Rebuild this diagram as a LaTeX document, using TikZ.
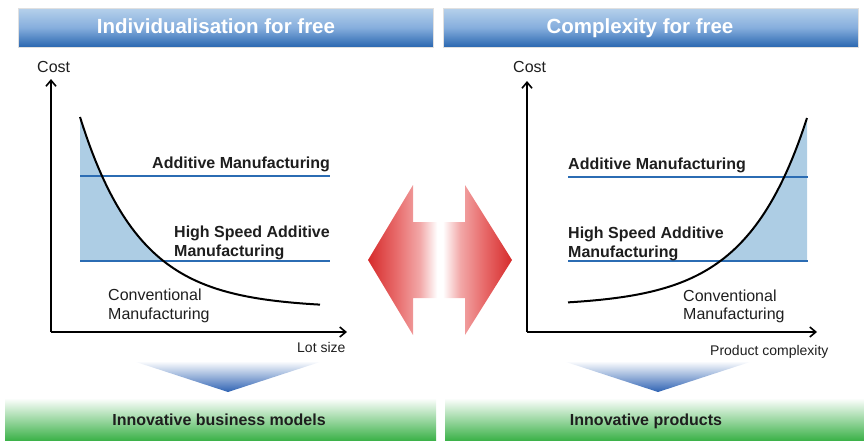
\documentclass[tikz,border=0pt]{standalone}
\usepackage{fontspec}
\setmainfont{Liberation Sans}
\usetikzlibrary{arrows.meta}
\definecolor{hdrTop}{HTML}{B6D1EB}
\definecolor{hdrMid}{HTML}{86AEDD}
\definecolor{hdrBot}{HTML}{2A67B0}
\definecolor{lineblue}{HTML}{2B6CB3}
\definecolor{areablue}{HTML}{ADCDE4}
\definecolor{txt}{HTML}{1E1E1E}
\definecolor{grn}{HTML}{3DB24A}
\definecolor{tri}{HTML}{2F63B3}
\definecolor{redtip}{HTML}{D62B2B}
\definecolor{redmid}{HTML}{E86C6C}
\definecolor{redlight}{HTML}{F2A8A8}
\pgfdeclarehorizontalshading{redarrow}{100bp}{color(0bp)=(redtip); color(25bp)=(redtip); color(35bp)=(redmid); color(43bp)=(redlight); color(49bp)=(white); color(51bp)=(white); color(57bp)=(redlight); color(65bp)=(redmid); color(75bp)=(redtip); color(100bp)=(redtip)}
\tikzset{
  hdrbar/.style={top color=hdrTop, bottom color=hdrBot, middle color=hdrMid, draw=black!12, line width=0.6pt},
  hdrtext/.style={anchor=base, inner sep=0, text=white, font=\bfseries\fontsize{20.5}{24}\selectfont},
  grnbar/.style={top color=white, bottom color=grn},
  bottext/.style={anchor=base, inner sep=0, text=txt, font=\bfseries\fontsize{16}{19}\selectfont},
  tristyle/.style={top color=white, bottom color=tri},
  lbl/.style={anchor=base west, inner sep=0, text=txt, font=\fontsize{16}{19}\selectfont},
  blbl/.style={anchor=base west, inner sep=0, text=txt, font=\bfseries\fontsize{16}{19}\selectfont},
  small/.style={anchor=base west, inner sep=0, text=txt, font=\fontsize{14}{17}\selectfont},
  axis/.style={line width=1.6pt, -{Straight Barb[length=6pt,width=10pt,line width=1.6pt]}},
  amline/.style={draw=lineblue, line width=1.8pt},
  costcurve/.style={draw=black, line width=2pt},
}
\begin{document}
\begin{tikzpicture}[x=1pt,y=-1pt]
\useasboundingbox (0,0) rectangle (864,440);
% header bars
\path[hdrbar] (18,8) rectangle (433,47);
\path[hdrbar] (443,8) rectangle (858,47);
\node[hdrtext] (h1) at (216,33) {Individualisation for free};
\node[hdrtext] (h2) at (640,33) {Complexity for free};
% bottom green bars
\path[grnbar] (5,398) rectangle (436,440);
\path[grnbar] (445,398) rectangle (864,440);
\node[bottext] (b1) at (219,425) {Innovative business models};
\node[bottext] (b2) at (646,425) {Innovative products};
% blue triangles
\path[tristyle] (133,361) -- (323,361) -- (228,392) -- cycle;
\path[tristyle] (563,361) -- (753,361) -- (658,392) -- cycle;
% red double arrow
\path[shading=redarrow] (368,260) -- (413,185) -- (413,222) -- (465,222) -- (465,185) -- (512,260) -- (465,335) -- (465,298) -- (413,298) -- (413,335) -- cycle;

% ---------- left chart ----------
\fill[areablue] plot[domain=80:163.5,samples=40] (\x,{308-191*exp(-0.0168*(\x-80))}) -- (80,261) -- cycle;
\coordinate (lam1) at (80,176); \coordinate (lam2) at (330,176);
\coordinate (lhs1) at (80,261); \coordinate (lhs2) at (330,261);
\draw[amline] (lam1) -- (lam2);
\draw[amline] (lhs1) -- (lhs2);
\draw[costcurve] plot[domain=80:320,samples=80] (\x,{308-191*exp(-0.0168*(\x-80))});
\coordinate (lo) at (51,332); \coordinate (ly) at (51,79); \coordinate (lx) at (347,332);
\draw[axis] (lo) -- (ly);
\draw[axis] (lo) -- (lx);
\node[lbl] (lcost) at (37,72) {Cost};
\node[small] (llot) at (297,352) {Lot size};
\node[blbl] (lam) at (152,168) {Additive Manufacturing};
\node[blbl] (lhsa) at (174,237) {High Speed Additive};
\node[blbl] (lhsb) at (174,256) {Manufacturing};
\node[lbl] (lcva) at (108,300) {Conventional};
\node[lbl] (lcvb) at (108,319) {Manufacturing};

% ---------- right chart ----------
\fill[areablue] plot[domain=720.4:807,samples=40] (\x,{306-188*exp(0.0165*(\x-807))}) -- (807,261) -- cycle;
\coordinate (ram1) at (568,177); \coordinate (ram2) at (808,177);
\coordinate (rhs1) at (568,261); \coordinate (rhs2) at (808,261);
\draw[amline] (ram1) -- (ram2);
\draw[amline] (rhs1) -- (rhs2);
\draw[costcurve] plot[domain=568:807,samples=80] (\x,{306-188*exp(0.0165*(\x-807))});
\coordinate (ro) at (527,332); \coordinate (ry) at (527,81); \coordinate (rx) at (817,332);
\draw[axis] (ro) -- (ry);
\draw[axis] (ro) -- (rx);
\node[lbl] (rcost) at (513,72) {Cost};
\node[small] (rprod) at (710,355) {Product complexity};
\node[blbl] (ram) at (568,169) {Additive Manufacturing};
\node[blbl] (rhsa) at (568,238) {High Speed Additive};
\node[blbl] (rhsb) at (568,257) {Manufacturing};
\node[lbl] (rcva) at (683,301) {Conventional};
\node[lbl] (rcvb) at (683,319) {Manufacturing};
\end{tikzpicture}
\end{document}
